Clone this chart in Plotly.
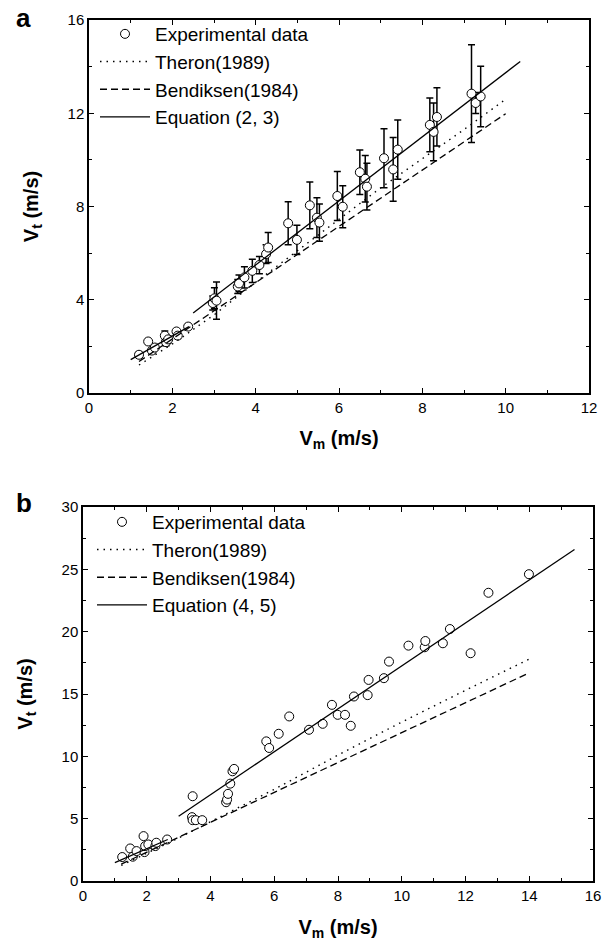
import plotly.graph_objects as go

# ---------------- Panel a data ----------------
a_vm = [1.20, 1.42, 1.51, 1.58, 1.82, 1.85, 1.90, 2.10, 2.13, 2.38,
        2.97, 3.01, 3.06, 3.57, 3.60, 3.73, 3.92, 4.09, 4.25, 4.30,
        4.78, 4.99, 5.30, 5.47, 5.53, 5.96, 6.09, 6.50, 6.63, 6.67,
        7.08, 7.30, 7.41, 8.18, 8.27, 8.35, 9.18, 9.28, 9.40]
a_vt = [1.64, 2.21, 1.82, 1.95, 2.46, 2.18, 2.30, 2.64, 2.46, 2.85,
        3.86, 4.06, 3.96, 4.57, 4.70, 4.96, 5.24, 5.49, 5.96, 6.24,
        7.28, 6.57, 8.05, 7.52, 7.31, 8.45, 7.99, 9.47, 9.19, 8.85,
        10.07, 9.59, 10.44, 11.50, 11.20, 11.84, 12.84, 12.44, 12.72]
a_err = [0.12, 0.10, 0.12, 0.10, 0.20, 0.15, 0.15, 0.12, 0.12, 0.10,
         0.30, 0.45, 0.80, 0.30, 0.36, 0.46, 0.50, 0.37, 0.40, 0.64,
         0.92, 0.63, 1.00, 0.85, 0.80, 1.05, 0.90, 0.95, 1.00, 1.00,
         1.27, 1.37, 1.27, 1.15, 1.24, 1.25, 2.10, 0.45, 1.30]

a_theron_vm = [1.2, 2, 3, 4, 5, 6, 7, 8, 9, 10]
a_theron_vt = [1.20, 2.10, 3.35, 4.75, 6.10, 7.45, 8.80, 10.05, 11.30, 12.60]
a_bend_vm = [1.2, 10]
a_bend_vt = [1.35, 11.98]
a_eq_vm = [1.0, 2.4, None, 2.5, 10.35]
a_eq_vt = [1.43, 2.85, None, 3.43, 14.22]

# ---------------- Panel b data ----------------
b_vm = [1.23, 1.48, 1.56, 1.68, 1.90, 1.93, 1.95, 2.05, 2.27, 2.30,
        2.64, 3.44, 3.42, 3.44, 3.54, 3.74, 4.49, 4.52, 4.55, 4.62,
        4.69, 4.74, 5.75, 5.84, 6.14, 6.47, 7.09, 7.52, 7.81, 7.99,
        8.22, 8.40, 8.50, 8.93, 8.96, 9.44, 9.60, 10.21, 10.72, 10.74,
        11.29, 11.51, 12.16, 12.72, 13.99]
b_vt = [1.92, 2.61, 1.95, 2.40, 3.60, 2.32, 2.80, 2.93, 2.80, 3.07,
        3.33, 6.80, 5.12, 4.88, 4.88, 4.88, 6.32, 6.53, 6.99, 7.81,
        8.80, 8.99, 11.20, 10.67, 11.81, 13.20, 12.13, 12.61, 14.13, 13.33,
        13.33, 12.45, 14.80, 14.91, 16.13, 16.27, 17.60, 18.88, 18.75, 19.25,
        19.07, 20.21, 18.27, 23.12, 24.61]

b_theron_vm = [1.2, 2, 3, 4, 6, 8, 10, 12, 14]
b_theron_vt = [1.25, 2.20, 3.45, 4.75, 7.35, 10.10, 12.75, 15.30, 17.80]
b_bend_vm = [1.2, 14]
b_bend_vt = [1.35, 16.70]
b_eq_vm = [1.0, 2.66, None, 3.0, 15.42]
b_eq_vt = [1.47, 3.33, None, 5.2, 26.59]

names_a = ["Experimental data", "Theron(1989)", "Bendiksen(1984)", "Equation (2, 3)"]
names_b = ["Experimental data", "Theron(1989)", "Bendiksen(1984)", "Equation (4, 5)"]

FONT = "Liberation Sans, Arial, sans-serif"
W, H = 611, 944
DOT = "1.5px,5px"
DASH = "7px,4px"

fig = go.Figure()

marker = dict(symbol="circle", size=9, color="white", line=dict(color="black", width=1))

# Panel a
fig.add_trace(go.Scatter(x=a_vm, y=a_vt, mode="markers", name=names_a[0], marker=marker,
                         error_y=dict(type="data", array=a_err, visible=True, color="black",
                                      thickness=1.5, width=3.5),
                         xaxis="x", yaxis="y", legend="legend", legendgroup="a1"))
fig.add_trace(go.Scatter(x=a_theron_vm, y=a_theron_vt, mode="lines", name=names_a[1],
                         line=dict(color="black", width=1.4, dash=DOT),
                         xaxis="x", yaxis="y", legend="legend", legendgroup="a2"))
fig.add_trace(go.Scatter(x=a_bend_vm, y=a_bend_vt, mode="lines", name=names_a[2],
                         line=dict(color="black", width=1.3, dash=DASH),
                         xaxis="x", yaxis="y", legend="legend", legendgroup="a3"))
fig.add_trace(go.Scatter(x=a_eq_vm, y=a_eq_vt, mode="lines", name=names_a[3],
                         line=dict(color="black", width=1.3), connectgaps=False,
                         xaxis="x", yaxis="y", legend="legend", legendgroup="a4"))

# Panel b
fig.add_trace(go.Scatter(x=b_vm, y=b_vt, mode="markers", name=names_b[0], marker=marker,
                         xaxis="x2", yaxis="y2", legend="legend2", legendgroup="b1"))
fig.add_trace(go.Scatter(x=b_theron_vm, y=b_theron_vt, mode="lines", name=names_b[1],
                         line=dict(color="black", width=1.4, dash=DOT),
                         xaxis="x2", yaxis="y2", legend="legend2", legendgroup="b2"))
fig.add_trace(go.Scatter(x=b_bend_vm, y=b_bend_vt, mode="lines", name=names_b[2],
                         line=dict(color="black", width=1.3, dash=DASH),
                         xaxis="x2", yaxis="y2", legend="legend2", legendgroup="b3"))
fig.add_trace(go.Scatter(x=b_eq_vm, y=b_eq_vt, mode="lines", name=names_b[3],
                         line=dict(color="black", width=1.3), connectgaps=False,
                         xaxis="x2", yaxis="y2", legend="legend2", legendgroup="b4"))


def axis(rng, dtick, mdtick, domain, anchor, title, standoff):
    return dict(range=rng, dtick=dtick, tick0=0, domain=domain, anchor=anchor,
                showgrid=False, zeroline=False, showline=True, linecolor="black", linewidth=1.5,
                mirror="ticks", ticks="inside", ticklen=5, tickwidth=1.3, tickcolor="black",
                minor=dict(dtick=mdtick, tick0=0, ticks="inside", ticklen=3, tickwidth=1.2,
                           tickcolor="black", showgrid=False),
                tickfont=dict(family=FONT, size=15, color="black"),
                title=dict(text=title, font=dict(family=FONT, size=20, color="black"),
                           standoff=standoff),
                automargin=False)


leg_common = dict(xanchor="left", yanchor="top", bgcolor="rgba(0,0,0,0)", borderwidth=0,
                  tracegroupgap=0, font=dict(family=FONT, size=19, color="black"),
                  itemwidth=50, traceorder="grouped")

fig.update_layout(
    width=W, height=H,
    margin=dict(l=0, r=0, t=0, b=0),
    paper_bgcolor="white", plot_bgcolor="white",
    font=dict(family=FONT, color="black"),
    xaxis=axis([0, 12], 2, 1, [89 / W, 589 / W], "y", "<b>V<sub>m</sub> (m/s)</b>", 16),
    yaxis=axis([0, 16], 4, 2, [1 - 393 / H, 1 - 20 / H], "x", "<b>V<sub>t</sub> (m/s)</b>", 24),
    xaxis2=axis([0, 16], 2, 1, [83 / W, 593 / W], "y2", "<b>V<sub>m</sub> (m/s)</b>", 17),
    yaxis2=axis([0, 30], 5, 2.5, [1 - 881 / H, 1 - 507 / H], "x2", "<b>V<sub>t</sub> (m/s)</b>", 24),
    legend=dict(x=95 / W, y=1 - 15 / H, **leg_common),
    legend2=dict(x=92 / W, y=1 - 503 / H, **leg_common),
    showlegend=True,
    annotations=[
        dict(text="<b>a</b>", x=23 / W, y=1 - 18 / H, xref="paper", yref="paper",
             xanchor="center", yanchor="middle",
             showarrow=False, font=dict(family=FONT, size=26, color="black")),
        dict(text="<b>b</b>", x=24 / W, y=1 - 503 / H, xref="paper", yref="paper",
             xanchor="center", yanchor="middle",
             showarrow=False, font=dict(family=FONT, size=26, color="black")),
    ],
)

fig.write_html(
    "out.html",
    config={"displayModeBar": False},
    post_script="document.body.style.margin='0';document.documentElement.style.overflow='hidden';",
)
